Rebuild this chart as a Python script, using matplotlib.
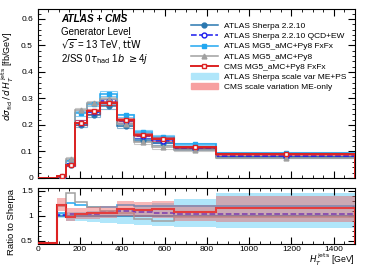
import numpy as np
import matplotlib
matplotlib.use("Agg")
import matplotlib.pyplot as plt
from matplotlib.lines import Line2D
from matplotlib.patches import Patch
from matplotlib.ticker import MultipleLocator

plt.rcParams['font.family'] = ['Liberation Sans', 'DejaVu Sans']
plt.rcParams['mathtext.fontset'] = 'dejavusans'

# bin edges (first bin 0-90 is empty)
edges = [0, 90, 135, 175, 235, 295, 375, 455, 540, 645, 845, 1500]

# ATLAS Sherpa 2.2.10 absolute prediction [fb/GeV], bins 90..1500
sherpa = [0.005, 0.050, 0.201, 0.239, 0.270, 0.195, 0.145, 0.130, 0.108, 0.079]
stat_err = [0.002, 0.005, 0.008, 0.008, 0.008, 0.007, 0.006, 0.006, 0.004, 0.003]

# ratios to Sherpa
r_qcdew = [1.02, 1.03, 1.04, 1.04, 1.08, 1.10, 1.08, 1.06, 1.04, 1.03]
r_mgfxfx = [1.06, 1.26, 1.21, 1.17, 1.18, 1.21, 1.20, 1.19, 1.20, 1.20]
r_mg = [1.20, 1.46, 1.28, 1.18, 1.10, 1.05, 0.93, 0.90, 0.98, 0.97]
r_cms = [0.0, 1.22, 0.98, 1.04, 1.05, 1.05, 1.13, 1.12, 1.13, 1.07, 1.15]  # incl. empty bin

# scale-variation bands (ratio to Sherpa)
sh_up = [1.05, 1.08, 1.07, 1.09, 1.11, 1.15, 1.22, 1.26, 1.34, 1.45]
sh_dn = [0.95, 0.90, 0.89, 0.87, 0.86, 0.84, 0.82, 0.80, 0.77, 0.75]
cms_up = [1.35, 1.15, 1.15, 1.18, 1.20, 1.30, 1.27, 1.30, 1.22, 1.40]
cms_dn = [1.09, 0.89, 0.94, 0.94, 0.95, 0.99, 0.98, 0.96, 0.89, 0.88]

c_sh = '#2a78b0'
c_ew = '#1a1aee'
c_fx = '#22a7f0'
c_mg = '#a0a0a0'
c_cms = '#dd2222'
c_shband = '#b0e6fa'
c_cmsband = '#ee6060'

e = np.array(edges, float)
e1 = e[1:]
cen = 0.5 * (e1[:-1] + e1[1:])
wid = np.diff(e1)
sh = np.array(sherpa)

fig = plt.figure(figsize=(3.74, 2.68), dpi=100)
ax1 = fig.add_axes([0.101, 0.336, 0.848, 0.631])
ax2 = fig.add_axes([0.101, 0.0896, 0.848, 0.209])

series = [
    ('ATLAS Sherpa 2.2.10', np.ones(10), c_sh, '-', 'o', 'full'),
    ('ATLAS Sherpa 2.2.10 QCD+EW', np.array(r_qcdew), c_ew, '--', 'o', 'none'),
    ('ATLAS MG5_aMC+Py8 FxFx', np.array(r_mgfxfx), c_fx, '-', 's', 'full'),
    ('ATLAS MG5_aMC+Py8', np.array(r_mg), c_mg, '-', '^', 'full'),
    ('CMS MG5_aMC+Py8 FxFx', np.array(r_cms[1:]), c_cms, '-', 's', 'none'),
]

handles = []
for i, (lab, r, c, ls, mk, fs) in enumerate(series):
    vals = sh * r
    lw = 1.4 if 'CMS' in lab else 1.1
    z = 5 if 'CMS' in lab else 3
    ax1.stairs(np.concatenate([[0], vals]), e, color=c, lw=lw, ls=ls, zorder=z)
    ax1.bar(cen, 2 * np.array(stat_err), bottom=vals - np.array(stat_err), width=wid,
            fill=False, edgecolor=c, alpha=0.55, lw=0.8, zorder=z - 1)
    mfc = c if fs == 'full' else 'white'
    ax1.plot(cen, vals, ls='none', marker=mk, ms=3.5, mfc=mfc, mec=c, mew=1.0, zorder=z + 1)
    # ratio panel
    if 'CMS' in lab:
        rr = np.clip(np.array(r_cms), 0.455, None)
        ax2.stairs(rr, e, color=c, lw=1.5, zorder=z)
    else:
        ax2.stairs(r, e1, color=c, lw=1.1, ls=ls, zorder=z)
    handles.append(Line2D([], [], color=c, ls=ls, lw=lw, marker=mk, ms=3.5,
                          mfc=mfc, mec=c, label=lab))

handles.append(Patch(color=c_shband, label='ATLAS Sherpa scale var ME+PS'))
handles.append(Patch(color='#f7a0a0', label='CMS scale variation ME-only'))

ax2.stairs(sh_up, e1, baseline=sh_dn, fill=True, color=c_shband, lw=0, zorder=1)
ax2.stairs(cms_up, e1, baseline=cms_dn, fill=True, color=c_cmsband, alpha=0.45, lw=0, zorder=8)

ax1.legend(handles=handles, loc='upper left', bbox_to_anchor=(0.465, 0.955), frameon=False,
           fontsize=6, handlelength=3.2, handletextpad=0.7, labelspacing=0.28, borderpad=0.2)

ax1.text(0.073, 0.94, 'ATLAS + CMS', transform=ax1.transAxes, fontsize=7.2,
         fontweight='bold', style='italic', va='center')
ax1.text(0.073, 0.865, 'Generator Level', transform=ax1.transAxes, fontsize=7, va='center')
ax1.text(0.073, 0.79, r'$\sqrt{s}$ = 13 TeV, $\mathrm{t\bar{t}W}$', transform=ax1.transAxes,
         fontsize=7, va='center')
ax1.text(0.073, 0.705, r'2$l$SS 0$\tau_{\rm had}$ 1$b$ $\geq$4$j$', transform=ax1.transAxes,
         fontsize=7, va='center')

for ax in (ax1, ax2):
    ax.set_xlim(0, 1500)
    ax.xaxis.set_major_locator(MultipleLocator(200))
    ax.xaxis.set_minor_locator(MultipleLocator(50))
    ax.tick_params(which='both', direction='in', top=True, right=True, labelsize=6)
    ax.tick_params(which='major', length=5)
    ax.tick_params(which='minor', length=2.5)
ax2.tick_params(axis='x', pad=1.5)

ax1.set_ylim(0, 0.638)
ax1.yaxis.set_major_locator(MultipleLocator(0.1))
ax1.yaxis.set_minor_locator(MultipleLocator(0.02))
ax1.set_yticks([0, 0.1, 0.2, 0.3, 0.4, 0.5, 0.6])
ax1.set_yticklabels(['0', '0.1', '0.2', '0.3', '0.4', '0.5', '0.6'])
ax1.tick_params(labelbottom=False)
ax1.set_ylabel(r'$d\sigma_{\rm fid}\,/\,d\,H_T^{\,\rm jets}$ [fb/GeV]', fontsize=6.5)
ax1.yaxis.set_label_coords(-0.068, 0.6)

ax2.set_ylim(0.44, 1.56)
ax2.set_yticks([0.5, 1, 1.5])
ax2.set_yticklabels(['0.5', '1', '1.5'])
ax2.yaxis.set_minor_locator(MultipleLocator(0.1))
ax2.set_ylabel('Ratio to Sherpa', fontsize=6.8)
ax2.yaxis.set_label_coords(-0.068, 0.4)
ax2.set_xlabel(r'$H_T^{\,\rm jets}$ [GeV]', fontsize=6.3)
ax2.xaxis.set_label_coords(1.0, -0.145)
ax2.xaxis.label.set_ha('right')
ax2.xaxis.label.set_va('top')

fig.savefig('out.png', dpi=100)
